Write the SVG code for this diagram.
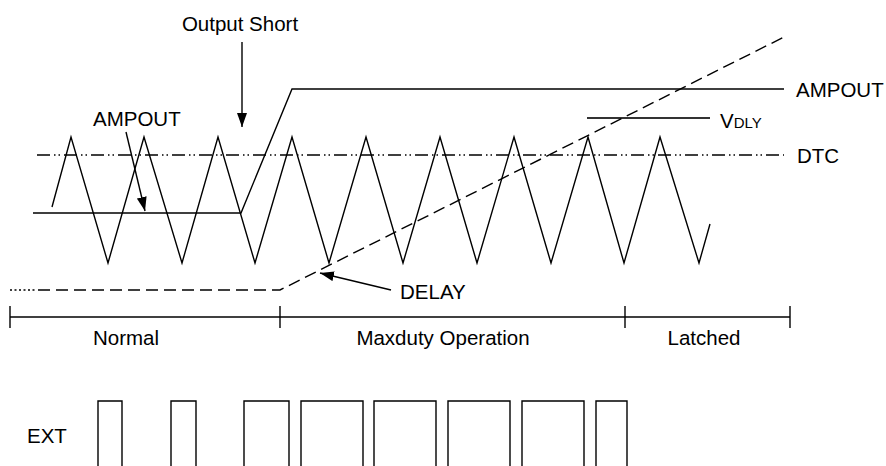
<svg xmlns="http://www.w3.org/2000/svg" width="886" height="466" viewBox="0 0 886 466">
<defs>
<style>
.ln{fill:none;stroke:#000;stroke-width:1.4;stroke-linejoin:miter}
.dash{fill:none;stroke:#000;stroke-width:1.4;stroke-dasharray:12 6}
.dot{fill:none;stroke:#000;stroke-width:1.4;stroke-dasharray:2 2.5}
.dd{fill:none;stroke:#000;stroke-width:1.4;stroke-dasharray:13 4 1.5 3 1.5 4}
text{font-family:"Liberation Sans",Arial,sans-serif;font-size:20.5px;fill:#000}
</style>
<marker id="ah" viewBox="0 0 14 10" refX="14" refY="5" markerWidth="14" markerHeight="10" markerUnits="userSpaceOnUse" orient="auto">
<path d="M0,0 L14,5 L0,10 Z" fill="#000"/>
</marker>
</defs>
<rect width="886" height="466" fill="#fff"/>

<g id="triangle-wave">
<polyline class="ln" points="52,207 71,137 108,263 144,137 182,263 218,137 255,263 292,137 329,263 366,137 403,263 440,137 477,263 514,137 551,263 588,137 624,263 660,137 699,263 710,224"/>
</g>

<g id="dtc">
<line class="dd" x1="37" y1="155" x2="784" y2="155"/>
<text x="797" y="163">DTC</text>
</g>

<g id="ampout">
<polyline class="ln" points="33,213 241,213 292,89 784,89"/>
<text x="796" y="97">AMPOUT</text>
</g>

<g id="vdly">
<line x1="587" y1="118" x2="710" y2="118" stroke="#333" stroke-width="2"/>
<text x="720" y="128">V<tspan font-size="15px">DLY</tspan></text>
</g>

<g id="delay-ramp">
<line class="dot" x1="10" y1="290" x2="36" y2="290"/>
<polyline class="dash" points="38,290 280,290 784,37"/>
</g>

<g id="label-output-short">
<text x="240" y="31" text-anchor="middle">Output Short</text>
</g>
<g id="label-ampout">
<text x="93" y="126">AMPOUT</text>
</g>
<g id="label-delay">
<text x="400" y="299">DELAY</text>
</g>

<g id="timeline">
<line class="ln" x1="10" y1="317" x2="790" y2="317"/>
<line class="ln" x1="10" y1="306" x2="10" y2="328"/>
<line class="ln" x1="280" y1="306" x2="280" y2="328"/>
<line class="ln" x1="625" y1="306" x2="625" y2="328"/>
<line class="ln" x1="790" y1="306" x2="790" y2="328"/>
<text x="126" y="345" text-anchor="middle">Normal</text>
<text x="443" y="345" text-anchor="middle">Maxduty Operation</text>
<text x="704" y="345" text-anchor="middle">Latched</text>
</g>

<g id="ext">
<text x="27" y="443">EXT</text>
<path class="ln" d="M98,466 V401 H122 V466 M171,466 V401 H196 V466 M244,466 V401 H289 V466 M301,466 V401 H363 V466 M374,466 V401 H436 V466 M448,466 V401 H510 V466 M522,466 V401 H584 V466 M596,466 V401 H627 V466"/>
</g>

<g id="connectors">
<line class="ln" x1="242" y1="42" x2="242" y2="127" marker-end="url(#ah)"/>
<line class="ln" x1="126" y1="132" x2="145" y2="211" marker-end="url(#ah)"/>
<line class="ln" x1="391" y1="290" x2="320" y2="273" marker-end="url(#ah)"/>
</g>
</svg>
